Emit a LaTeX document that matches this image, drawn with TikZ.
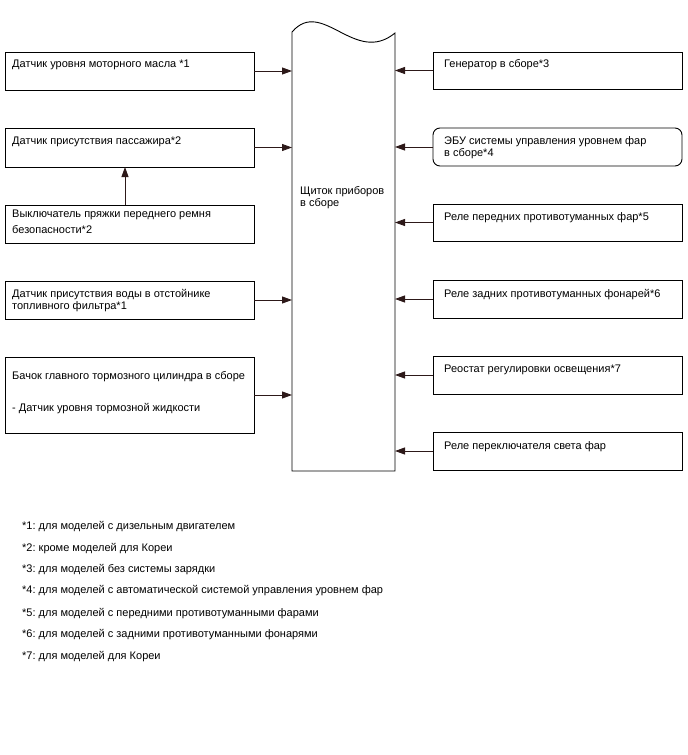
\documentclass[tikz,border=0pt]{standalone}
\usepackage{fontspec}
\setmainfont{Liberation Sans}
\frenchspacing
\usetikzlibrary{arrows.meta}
\definecolor{arrcol}{RGB}{45,25,25}
\begin{document}
\begin{tikzpicture}[x=1pt,y=-1pt,
  box/.style={draw=black,line width=0.9pt,minimum width=249pt,inner sep=0pt,outer sep=0pt},
  mainbox/.style={minimum width=103pt,minimum height=439pt,inner sep=0pt,outer sep=0pt},
  txt/.style={anchor=mid west,inner sep=0pt,yshift=-1.5pt,font=\fontsize{11}{13}\selectfont},
  arr/.style={draw=arrcol,line width=0.9pt,-{Triangle[length=10pt,width=7pt]}}]
\useasboundingbox (0,0) rectangle (688,755);
% main unit
\node[mainbox] (main) at (343.5,251.5) {};
\draw[line width=0.9pt] (main.south west) -- (main.north west)
  .. controls (322,-3) and (355,66) .. ([yshift=-1pt]main.north east) -- (main.south east) -- cycle;
\node[txt] (mt1) at (300,190) {Щиток приборов};
\node[txt] (mt2) at (300,202) {в сборе};
% left boxes
\node[box,minimum height=38pt] (L1) at (129.5,71) {};
\node[box,minimum height=39pt] (L2) at (129.5,147.5) {};
\node[box,minimum height=38pt] (L3) at (129.5,224) {};
\node[box,minimum height=38pt] (L4) at (129.5,300) {};
\node[box,minimum height=76pt] (L5) at (129.5,395) {};
\node[txt] (l1) at (12,63) {Датчик уровня моторного масла *1};
\node[txt] (l2) at (12,140) {Датчик присутствия пассажира*2};
\node[txt] (l3a) at (12,213) {Выключатель пряжки переднего ремня};
\node[txt] (l3b) at (12,229) {безопасности*2};
\node[txt] (l4a) at (12,293) {Датчик присутствия воды в отстойнике};
\node[txt] (l4b) at (12,305) {топливного фильтра*1};
\node[txt] (l5a) at (12,375) {Бачок главного тормозного цилиндра в сборе};
\node[txt] (l5b) at (12,407) {- Датчик уровня тормозной жидкости};
% right boxes
\node[box,minimum height=37pt] (R1) at (557.5,70.5) {};
\node[box,minimum height=38pt,rounded corners=7pt] (R2) at (557.5,147) {};
\node[box,minimum height=37pt] (R3) at (557.5,222.5) {};
\node[box,minimum height=38pt] (R4) at (557.5,299) {};
\node[box,minimum height=38pt] (R5) at (557.5,375) {};
\node[box,minimum height=38pt] (R6) at (557.5,451) {};
\node[txt] (r1) at (444,63) {Генератор в сборе*3};
\node[txt] (r2a) at (444,140) {ЭБУ системы управления уровнем фар};
\node[txt] (r2b) at (444,152) {в сборе*4};
\node[txt] (r3) at (444,216) {Реле передних противотуманных фар*5};
\node[txt] (r4) at (444,293) {Реле задних противотуманных фонарей*6};
\node[txt] (r5) at (444,368) {Реостат регулировки освещения*7};
\node[txt] (r6) at (444,445) {Реле переключателя света фар};
% connectors
\foreach \n in {L1,L2,L4,L5} \draw[arr] (\n.east) -- (\n.east -| main.west);
\foreach \n in {R1,R2,R3,R4,R5,R6} \draw[arr] (\n.west) -- (\n.west -| main.east);
\draw[arr] ([xshift=-4.5pt]L3.north) -- ([xshift=-4.5pt]L2.south);
% footnotes
\node[txt] (f1) at (22,525) {*1: для моделей с дизельным двигателем};
\node[txt] (f2) at (22,547) {*2: кроме моделей для Кореи};
\node[txt] (f3) at (22,568) {*3: для моделей без системы зарядки};
\node[txt] (f4) at (22,589) {*4: для моделей с автоматической системой управления уровнем фар};
\node[txt] (f5) at (22,612) {*5: для моделей с передними противотуманными фарами};
\node[txt] (f6) at (22,633) {*6: для моделей с задними противотуманными фонарями};
\node[txt] (f7) at (22,655) {*7: для моделей для Кореи};
\end{tikzpicture}
\end{document}
